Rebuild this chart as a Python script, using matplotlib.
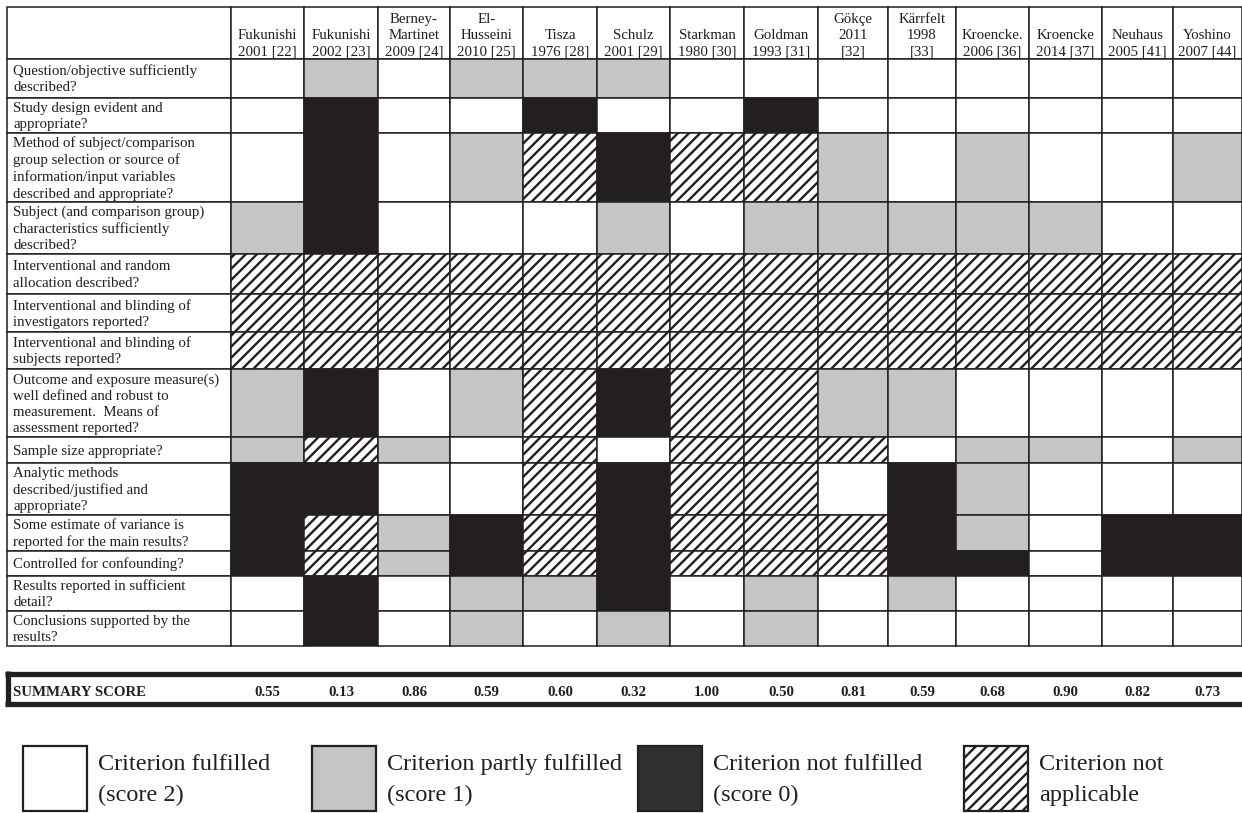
import matplotlib.pyplot as plt
from matplotlib.patches import Rectangle

plt.rcParams["font.family"] = ["Liberation Serif", "DejaVu Serif"]
plt.rcParams["hatch.linewidth"] = 1.7

# data: study columns, criteria rows, scores (2 fulfilled, 1 partly, 0 not, N not applicable)
studies = ["Fukunishi\n2001 [22]", "Fukunishi\n2002 [23]", "Berney-\nMartinet\n2009 [24]",
           "El-\nHusseini\n2010 [25]", "Tisza\n1976 [28]", "Schulz\n2001 [29]",
           "Starkman\n1980 [30]", "Goldman\n1993 [31]", "Gökçe\n2011\n[32]",
           "Kärrfelt\n1998\n[33]", "Kroencke.\n2006 [36]", "Kroencke\n2014 [37]",
           "Neuhaus\n2005 [41]", "Yoshino\n2007 [44]"]

criteria = ["Question/objective sufficiently\ndescribed?",
            "Study design evident and\nappropriate?",
            "Method of subject/comparison\ngroup selection or source of\ninformation/input variables\ndescribed and appropriate?",
            "Subject (and comparison group)\ncharacteristics sufficiently\ndescribed?",
            "Interventional and random\nallocation described?",
            "Interventional and blinding of\ninvestigators reported?",
            "Interventional and blinding of\nsubjects reported?",
            "Outcome and exposure measure(s)\nwell defined and robust to\nmeasurement.  Means of\nassessment reported?",
            "Sample size appropriate?",
            "Analytic methods\ndescribed/justified and\nappropriate?",
            "Some estimate of variance is\nreported for the main results?",
            "Controlled for confounding?",
            "Results reported in sufficient\ndetail?",
            "Conclusions supported by the\nresults?"]

q_objective = ["2", "1", "2", "1", "1", "1", "2", "2", "2", "2", "2", "2", "2", "2"]
q_design = ["2", "0", "2", "2", "0", "2", "2", "0", "2", "2", "2", "2", "2", "2"]
q_selection = ["2", "0", "2", "1", "N", "0", "N", "N", "1", "2", "1", "2", "2", "1"]
q_characteristics = ["1", "0", "2", "2", "2", "1", "2", "1", "1", "1", "1", "1", "2", "2"]
q_random = ["N"] * 14
q_blind_inv = ["N"] * 14
q_blind_subj = ["N"] * 14
q_outcome = ["1", "0", "2", "1", "N", "0", "N", "N", "1", "1", "2", "2", "2", "2"]
q_sample = ["1", "N", "1", "2", "N", "2", "N", "N", "N", "2", "1", "1", "2", "1"]
q_analytic = ["0", "0", "2", "2", "N", "0", "N", "N", "2", "0", "1", "2", "2", "2"]
q_variance = ["0", "N", "1", "0", "N", "0", "N", "N", "N", "0", "1", "2", "0", "0"]
q_confounding = ["0", "N", "1", "0", "N", "0", "N", "N", "N", "0", "0", "2", "0", "0"]
q_results = ["2", "0", "2", "1", "1", "0", "2", "1", "2", "1", "2", "2", "2", "2"]
q_conclusions = ["2", "0", "2", "1", "2", "1", "2", "1", "2", "2", "2", "2", "2", "2"]

scores = [q_objective, q_design, q_selection, q_characteristics, q_random, q_blind_inv,
          q_blind_subj, q_outcome, q_sample, q_analytic, q_variance, q_confounding,
          q_results, q_conclusions]

summary = [0.55, 0.13, 0.86, 0.59, 0.60, 0.32, 1.00, 0.50, 0.81, 0.59, 0.68, 0.90, 0.82, 0.73]

legend_labels = ["Criterion fulfilled\n(score 2)", "Criterion partly fulfilled\n(score 1)",
                 "Criterion not fulfilled\n(score 0)", "Criterion not\napplicable"]
legend_codes = ["2", "1", "0", "N"]

# layout (pixel grid of the table)
col_edges = [7, 231, 304, 378, 450, 523, 597, 670, 744, 818, 888, 956, 1029, 1102, 1173, 1242]
row_edges = [7, 59, 98, 133, 202, 254, 294, 332, 369, 437, 463, 515, 551, 576, 611, 646]

ink = "#231f20"
fills = {"2": "white", "1": "#c4c5c7", "0": ink, "N": "white"}

fig = plt.figure(figsize=(12.42, 8.13), dpi=100)
ax = fig.add_axes([0, 0, 1, 1])
ax.set_xlim(0, 1242)
ax.set_ylim(813, 0)
ax.axis("off")

def cell(x0, x1, y0, y1, code="2", lw=1.1):
    ax.add_patch(Rectangle((x0, y0), x1 - x0, y1 - y0, facecolor=fills[code],
                           edgecolor=ink, lw=lw, hatch="///" if code == "N" else None))

# header row
cell(col_edges[0], col_edges[1], row_edges[0], row_edges[1])
for j, name in enumerate(studies):
    x0, x1 = col_edges[j + 1], col_edges[j + 2]
    cell(x0, x1, row_edges[0], row_edges[1])
    ax.text((x0 + x1) / 2, row_edges[1] - 0.5, name, ha="center", va="bottom",
            fontsize=10.7, linespacing=1.33, color=ink)

# criteria rows
for i, crit in enumerate(criteria):
    y0, y1 = row_edges[i + 1], row_edges[i + 2]
    cell(col_edges[0], col_edges[1], y0, y1)
    ax.text(col_edges[0] + 6, (y0 + y1) / 2 + 1, crit, ha="left", va="center",
            fontsize=10.7, linespacing=1.31, color=ink)
    for j, code in enumerate(scores[i]):
        cell(col_edges[j + 1], col_edges[j + 2], y0, y1, code)

# summary score band
ax.plot([5, 1242], [673.5, 673.5], color=ink, lw=3.8, solid_capstyle="butt")
ax.plot([5, 1242], [703.5, 703.5], color=ink, lw=3.8, solid_capstyle="butt")
ax.plot([7.5, 7.5], [671, 706], color=ink, lw=3.8, solid_capstyle="butt")
ax.text(13, 692, "SUMMARY SCORE", ha="left", va="center", fontsize=10.7,
        fontweight="bold", color=ink)
for j, val in enumerate(summary):
    xc = (col_edges[j + 1] + col_edges[j + 2]) / 2
    ax.text(xc, 692, f"{val:.2f}", ha="center", va="center", fontsize=10.7,
            fontweight="bold", color=ink)

# legend
legend_x = [23, 312, 638, 964]
for x0, code, lab in zip(legend_x, legend_codes, legend_labels):
    face = "#303030" if code == "0" else fills[code]
    ax.add_patch(Rectangle((x0, 746), 64, 65, facecolor=face, edgecolor=ink, lw=1.6,
                           hatch="///" if code == "N" else None))
    ax.text(x0 + 75, 780, lab, ha="left", va="center", fontsize=17.5, linespacing=1.6,
            color=ink)

fig.savefig("out.png", dpi=100)
